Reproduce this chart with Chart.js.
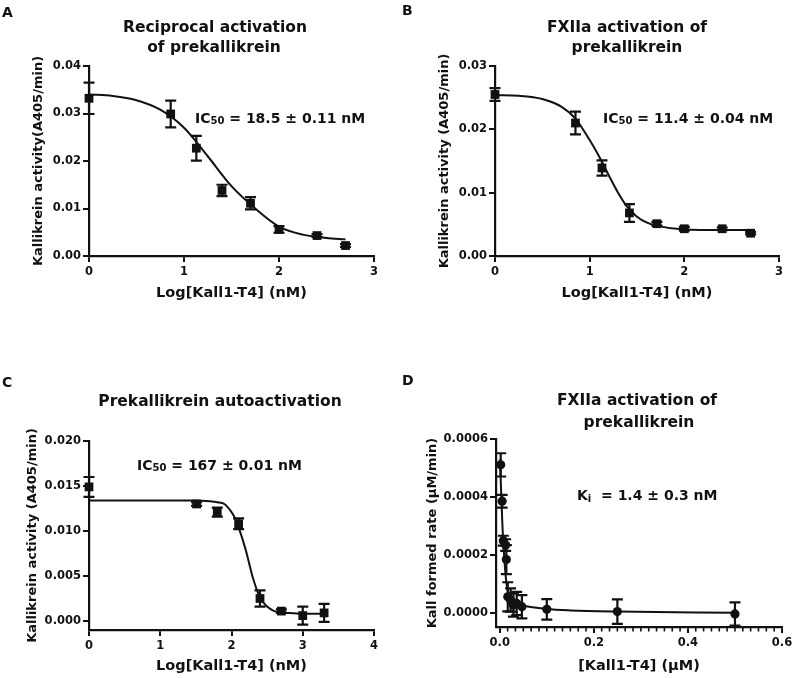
<!DOCTYPE html>
<html>
<head>
<meta charset="utf-8">
<script src="https://cdn.jsdelivr.net/npm/chart.js@4.4.0/dist/chart.umd.min.js"></script>
<style>
  body { margin: 0; background: #fff; width: 800px; height: 678px; position: relative; overflow: hidden; }
  canvas { position: absolute; }
</style>
</head>
<body>
<canvas id="chartA" width="400" height="339" style="left:0;top:0"></canvas>
<canvas id="chartB" width="400" height="339" style="left:400px;top:0"></canvas>
<canvas id="chartC" width="400" height="339" style="left:0;top:339px"></canvas>
<canvas id="chartD" width="400" height="339" style="left:400px;top:339px"></canvas>
<script>
// A - reciprocal activation
const aLogConc = [0, 0.86, 1.13, 1.40, 1.70, 2.00, 2.40, 2.70];
const aActivity = [0.0332, 0.0299, 0.0227, 0.0138, 0.0111, 0.0056, 0.0043, 0.0022];
const aSem = [0.0033, 0.0028, 0.0026, 0.0012, 0.0013, 0.0007, 0.0003, 0.0003];
const aFitX = [0, 0.25, 0.5, 0.75, 1.0, 1.25, 1.5, 1.75, 2.0, 2.25, 2.5, 2.7];
const aFitY = [0.0340, 0.0337, 0.0328, 0.0308, 0.0270, 0.0210, 0.0147, 0.0100, 0.0062, 0.0045, 0.0038, 0.0035];

// B - FXIIa activation (log)
const bLogConc = [0, 0.85, 1.13, 1.42, 1.71, 2.00, 2.40, 2.70];
const bActivity = [0.0255, 0.0210, 0.0139, 0.0068, 0.0051, 0.0043, 0.0043, 0.0036];
const bSem = [0.0010, 0.0018, 0.0012, 0.0014, 0.0003, 0.0003, 0.0002, 0.0002];
const bFitX = [0, 0.25, 0.5, 0.7, 0.85, 1.0, 1.1, 1.2, 1.3, 1.4, 1.5, 1.6, 1.7, 2.0, 2.4, 2.7];
const bFitY = [0.0254, 0.0253, 0.0248, 0.0236, 0.0217, 0.0183, 0.0157, 0.0128, 0.0100, 0.0077, 0.0062, 0.0053, 0.0048, 0.0042, 0.0041, 0.0041];

// C - autoactivation
const cLogConc = [0, 1.51, 1.80, 2.10, 2.40, 2.70, 3.00, 3.30];
const cActivity = [0.0149, 0.0130, 0.0121, 0.0108, 0.0025, 0.0011, 0.0006, 0.0009];
const cSem = [0.0011, 0.0002, 0.0005, 0.0006, 0.0009, 0.0002, 0.0010, 0.0010];
const cFitX = [0, 1.5, 1.7, 1.8, 1.9, 2.0, 2.05, 2.1, 2.2, 2.3, 2.4, 2.5, 2.6, 2.8, 3.0, 3.3];
const cFitY = [0.0134, 0.0134, 0.0133, 0.0132, 0.0130, 0.0121, 0.0114, 0.0104, 0.0079, 0.0048, 0.0026, 0.0016, 0.0011, 0.0009, 0.0008, 0.0008];

// D - FXIIa activation (linear, uM)
const dConc = [0.002, 0.005, 0.0075, 0.0125, 0.014, 0.017, 0.023, 0.029, 0.036, 0.047, 0.1, 0.25, 0.5];
const dRate = [0.000511, 0.000386, 0.000250, 0.000235, 0.000185, 0.000057, 0.000046, 0.000029, 0.000034, 0.000023, 0.0000137, 0.000006, -0.000002];
const dSem = [0.00004, 0.000022, 0.000017, 0.00002, 0.00005, 0.00005, 0.00004, 0.00004, 0.00004, 0.00004, 0.000035, 0.000042, 0.00004];
const dFitX = [0, 0.002, 0.004, 0.006, 0.008, 0.010, 0.0125, 0.015, 0.020, 0.030, 0.050, 0.10, 0.15, 0.25, 0.5];
const dFitY = [0.00053, 0.00046, 0.00037, 0.00029, 0.00023, 0.00018, 0.00013, 0.000095, 0.000058, 0.000038, 0.000027, 0.000015, 0.00001, 0.000006, 0.000002];

const INK = '#111';
const FONT = '"DejaVu Sans", sans-serif';
Chart.defaults.font.family = FONT;
Chart.defaults.font.weight = 'bold';
Chart.defaults.color = INK;

function toPoints(xs, ys) {
  return xs.map((x, i) => ({ x: x, y: ys[i] }));
}

function drawRuns(ctx, runs, x, y, align) {
  ctx.save();
  ctx.fillStyle = INK;
  ctx.textAlign = 'left';
  ctx.textBaseline = 'alphabetic';
  let total = 0;
  runs.forEach(r => {
    ctx.font = 'bold ' + r.size + 'px ' + FONT;
    r.w = ctx.measureText(r.t).width;
    total += r.w;
  });
  let cx = align === 'center' ? x - total / 2 : x;
  runs.forEach(r => {
    ctx.font = 'bold ' + r.size + 'px ' + FONT;
    ctx.fillText(r.t, cx, y + (r.dy || 0));
    cx += r.w;
  });
  ctx.restore();
}

function textPlugin(items) {
  return {
    id: 'panelText',
    afterDraw(chart) {
      items.forEach(it => drawRuns(chart.ctx, it.runs, it.x, it.y, it.align));
    }
  };
}

// error bars go under the symbols, like in prism
const errorBars = {
  id: 'errorBars',
  beforeDatasetsDraw(chart) {
    const ctx = chart.ctx;
    const xs = chart.scales.x, ys = chart.scales.y;
    chart.data.datasets.forEach(ds => {
      if (!ds.errors) return;
      ctx.save();
      ctx.strokeStyle = INK;
      ctx.lineWidth = 2.2;
      ds.data.forEach((p, i) => {
        const e = ds.errors[i];
        const px = xs.getPixelForValue(p.x);
        const top = ys.getPixelForValue(p.y + e);
        const bot = ys.getPixelForValue(p.y - e);
        ctx.beginPath();
        ctx.moveTo(px, top); ctx.lineTo(px, bot);
        ctx.moveTo(px - 5.5, top); ctx.lineTo(px + 5.5, top);
        ctx.moveTo(px - 5.5, bot); ctx.lineTo(px + 5.5, bot);
        ctx.stroke();
      });
      ctx.restore();
    });
  }
};

function makePanel(id, p) {
  const W = 400, H = 339;
  return new Chart(document.getElementById(id), {
    type: 'scatter',
    data: {
      datasets: [
        {
          data: toPoints(p.xs, p.ys),
          errors: p.err,
          pointStyle: p.style,
          pointRadius: p.style === 'rect' ? 6.2 : 4.6,
          backgroundColor: INK,
          borderColor: INK,
          borderWidth: 0,
          showLine: false,
          clip: false
        },
        {
          type: 'line',
          data: toPoints(p.fitX, p.fitY),
          borderColor: INK,
          borderWidth: 2,
          pointRadius: 0,
          fill: false,
          cubicInterpolationMode: 'monotone',
          clip: false
        }
      ]
    },
    options: {
      responsive: false,
      animation: false,
      events: [],
      layout: { padding: { left: 0, right: W - p.area.R, top: p.area.T, bottom: 0 } },
      plugins: { legend: { display: false }, tooltip: { enabled: false } },
      scales: {
        x: {
          type: 'linear',
          min: p.xMin, max: p.xMax,
          ticks: {
            stepSize: p.xStep, includeBounds: false, maxRotation: 0, padding: 3,
            color: INK, font: { size: 11.5, weight: 'bold' },
            callback: v => v.toFixed(p.xDec)
          },
          grid: { drawOnChartArea: false, color: INK, lineWidth: 2, tickLength: 6 },
          border: { color: INK, width: 2.2 },
          title: {
            display: true, text: p.xTitle, color: INK,
            font: { size: 14.5, weight: 'bold' },
            padding: { top: 0, bottom: H - p.xTitleY - 8.7 }
          },
          afterFit: s => { s.height = H - p.area.B; }
        },
        y: {
          type: 'linear',
          min: p.yMin, max: p.yMax,
          ticks: {
            stepSize: p.yStep, includeBounds: false, padding: 2,
            color: INK, font: { size: 11.5, weight: 'bold' },
            callback: v => v.toFixed(p.yDec)
          },
          grid: { drawOnChartArea: false, color: INK, lineWidth: 2, tickLength: 6 },
          border: { color: INK, width: 2.2 },
          title: {
            display: true, text: p.yTitle, color: INK,
            font: { size: 13, weight: 'bold' },
            padding: { top: p.yTitleX - 7.8, bottom: 0 }
          },
          afterFit: s => { s.width = p.area.L; }
        }
      }
    },
    plugins: [errorBars, textPlugin(p.texts)].concat(p.extra || [])
  });
}

// minor ticks on the linear x axis of panel D
const minorTicksD = {
  id: 'minorTicks',
  afterDraw(chart) {
    const ctx = chart.ctx, xs = chart.scales.x;
    const yb = chart.chartArea.bottom;
    ctx.save();
    ctx.strokeStyle = INK;
    ctx.lineWidth = 1.6;
    for (let k = 0; k <= 36; k++) {
      if (k % 12 === 0) continue;
      const px = xs.getPixelForValue(k * 0.6 / 36);
      ctx.beginPath();
      ctx.moveTo(px, yb);
      ctx.lineTo(px, yb + 4.5);
      ctx.stroke();
    }
    ctx.restore();
  }
};

makePanel('chartA', {
  xs: aLogConc, ys: aActivity, err: aSem, fitX: aFitX, fitY: aFitY, style: 'rect',
  area: { L: 89, R: 374, T: 66, B: 256 },
  xMin: 0, xMax: 3, xStep: 1, xDec: 0,
  yMin: 0, yMax: 0.04, yStep: 0.01, yDec: 2,
  xTitle: 'Log[Kall1-T4] (nM)', xTitleY: 293,
  yTitle: 'Kallikrein activity(A405/min)', yTitleX: 39,
  texts: [
    { runs: [{ t: 'A', size: 14 }], x: 2, y: 17 },
    { runs: [{ t: 'Reciprocal activation', size: 15.5 }], x: 215, y: 32, align: 'center' },
    { runs: [{ t: 'of prekallikrein', size: 15.5 }], x: 214, y: 52, align: 'center' },
    { runs: [{ t: 'IC', size: 14 }, { t: '50', size: 10, dy: 1 }, { t: ' = 18.5 ± 0.11 nM', size: 14 }], x: 195, y: 123 }
  ]
});

makePanel('chartB', {
  xs: bLogConc, ys: bActivity, err: bSem, fitX: bFitX, fitY: bFitY, style: 'rect',
  area: { L: 95, R: 379, T: 66, B: 256 },
  xMin: 0, xMax: 3, xStep: 1, xDec: 0,
  yMin: 0, yMax: 0.03, yStep: 0.01, yDec: 2,
  xTitle: 'Log[Kall1-T4] (nM)', xTitleY: 293,
  yTitle: 'Kallikrein activity (A405/min)', yTitleX: 45,
  texts: [
    { runs: [{ t: 'B', size: 14 }], x: 2, y: 15 },
    { runs: [{ t: 'FXIIa activation of', size: 15.5 }], x: 227, y: 32, align: 'center' },
    { runs: [{ t: 'prekallikrein', size: 15.5 }], x: 227, y: 52, align: 'center' },
    { runs: [{ t: 'IC', size: 14 }, { t: '50', size: 10, dy: 1 }, { t: ' = 11.4 ± 0.04 nM', size: 14 }], x: 203, y: 123 }
  ]
});

makePanel('chartC', {
  xs: cLogConc, ys: cActivity, err: cSem, fitX: cFitX, fitY: cFitY, style: 'rect',
  area: { L: 89, R: 374, T: 102, B: 291 },
  xMin: 0, xMax: 4, xStep: 1, xDec: 0,
  yMin: -0.001, yMax: 0.020, yStep: 0.005, yDec: 3,
  xTitle: 'Log[Kall1-T4] (nM)', xTitleY: 327.7,
  yTitle: 'Kallikrein activity (A405/min)', yTitleX: 33,
  texts: [
    { runs: [{ t: 'C', size: 14 }], x: 2, y: 48 },
    { runs: [{ t: 'Prekallikrein autoactivation', size: 15.5 }], x: 220, y: 67, align: 'center' },
    { runs: [{ t: 'IC', size: 14 }, { t: '50', size: 10, dy: 1 }, { t: ' = 167 ± 0.01 nM', size: 14 }], x: 137, y: 131 }
  ]
});

makePanel('chartD', {
  xs: dConc, ys: dRate, err: dSem, fitX: dFitX, fitY: dFitY, style: 'circle',
  area: { L: 96, R: 382, T: 100, B: 288 },
  xMin: -0.008, xMax: 0.6, xStep: 0.2, xDec: 1,
  yMin: -0.000047, yMax: 0.0006, yStep: 0.0002, yDec: 4,
  xTitle: '[Kall1-T4] (µM)', xTitleY: 327.7,
  yTitle: 'Kall formed rate (µM/min)', yTitleX: 33,
  texts: [
    { runs: [{ t: 'D', size: 14 }], x: 2, y: 46 },
    { runs: [{ t: 'FXIIa activation of', size: 15.5 }], x: 237, y: 66, align: 'center' },
    { runs: [{ t: 'prekallikrein', size: 15.5 }], x: 239, y: 88, align: 'center' },
    { runs: [{ t: 'K', size: 14 }, { t: 'i', size: 10, dy: 2 }, { t: '  = 1.4 ± 0.3 nM', size: 14 }], x: 177, y: 161 }
  ],
  extra: [minorTicksD]
});
</script>
</body>
</html>
